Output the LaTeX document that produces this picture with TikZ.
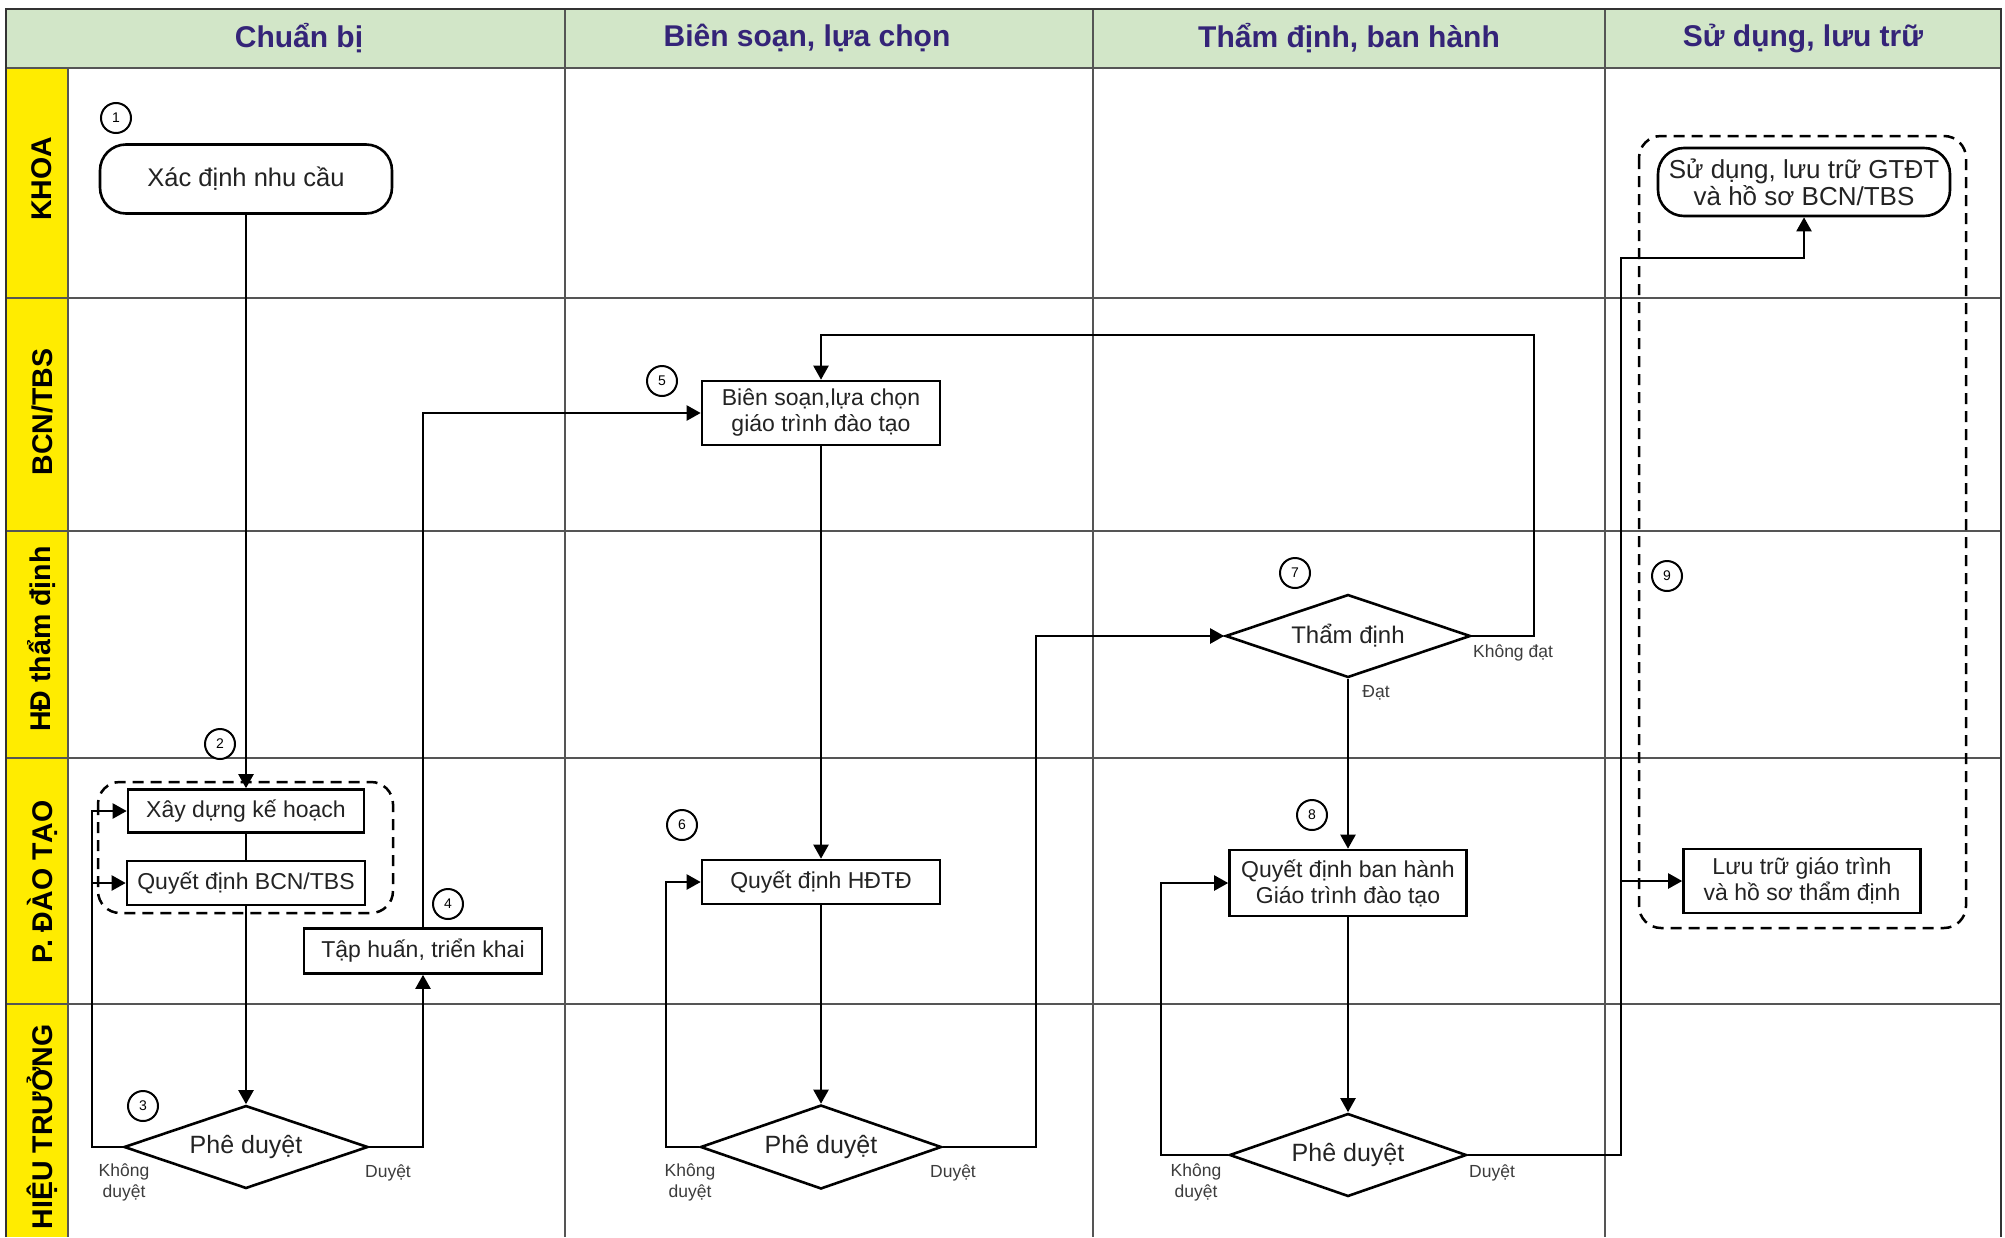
\documentclass[tikz,border=0pt]{standalone}
\usepackage{fontspec}
\setmainfont{Liberation Sans}
\usetikzlibrary{arrows.meta,shapes.geometric,calc}
\definecolor{hdrgreen}{RGB}{210,230,200}
\definecolor{hdrpurple}{RGB}{52,36,120}
\definecolor{laneyellow}{RGB}{255,236,0}
\definecolor{gridgray}{RGB}{85,85,85}
\definecolor{lblgray}{RGB}{60,60,60}
\definecolor{txtgray}{RGB}{35,35,35}
\begin{document}
\begin{tikzpicture}[x=1pt,y=-1pt,
  box/.style={draw,line width=2.6pt,fill=white,align=center,inner sep=0pt,text=txtgray,
    font=\fontsize{23}{26}\selectfont},
  rbox/.style={box,rounded corners=26pt,font=\fontsize{25.5}{27}\selectfont},
  dia/.style={draw,diamond,aspect=2.9,line width=2.6pt,fill=white,inner sep=0pt,text=txtgray,
    font=\fontsize{25}{27}\selectfont},
  num/.style={draw,circle,line width=2pt,minimum size=30pt,inner sep=0pt,
    fill=white,font=\fontsize{14}{14}\selectfont},
  conn/.style={line width=2.2pt},
  arr/.style={conn,-{Triangle[length=14pt,width=15pt]}},
  lbl/.style={text=lblgray,align=center,font=\fontsize{17.5}{21}\selectfont},
  lane/.style={rotate=90,font=\bfseries\fontsize{28.5}{30}\selectfont},
  hdr/.style={text=hdrpurple,font=\bfseries\fontsize{30}{32}\selectfont},
  grp/.style={draw,line width=2.5pt,dash pattern=on 11pt off 7pt,rounded corners=22pt},
  gridline/.style={draw=gridgray,line width=1.5pt}
]
\useasboundingbox (0,0) rectangle (2005,1237);
\fill[white] (0,0) rectangle (2005,1237);
% header and lane band
\fill[hdrgreen] (6,9) rectangle (2001,68);
\fill[laneyellow] (6,68) rectangle (68,1237);
% grid
\draw[gridline] (6,68) -- (2001,68);
\foreach \yy in {298,531,758,1004} \draw[gridline] (6,\yy) -- (2001,\yy);
\foreach \xx in {565,1093,1605} \draw[gridline] (\xx,9) -- (\xx,1237);
\draw[gridline] (68,68) -- (68,1237);
\draw[line width=1.8pt,draw=black!80] (6,1237) -- (6,9) -- (2001,9) -- (2001,1237);
% headers
\node[hdr] (h1) at (299,38) {Chuẩn bị};
\node[hdr] (h2) at (807,38) {Biên soạn, lựa chọn};
\node[hdr] (h3) at (1349,38) {Thẩm định, ban hành};
\node[hdr] (h4) at (1803,38) {Sử dụng, lưu trữ};
% lanes
\node[lane] (l1) at (42,179) {KHOA};
\node[lane] (l2) at (42,412) {BCN/TBS};
\node[lane] (l3) at (42,639) {HĐ thẩm định};
\node[lane] (l4) at (42,882) {P. ĐÀO TẠO};
\node[lane] (l5) at (42,1127) {HIỆU TRƯỞNG};
% groups
\draw[grp] (98,782) rectangle (393,913);
\draw[grp] (1639,136) rectangle (1966,928);
% nodes
\node[rbox,minimum width=292pt,minimum height=69pt] (n1) at (246,179) {Xác định nhu cầu};
\node[box,minimum width=236pt,minimum height=43pt] (n2) at (246,811) {Xây dựng kế hoạch};
\node[box,minimum width=238pt,minimum height=44pt] (n3) at (246,883) {Quyết định BCN/TBS};
\node[dia,minimum width=244pt,minimum height=83pt] (d1) at (246,1147) {Phê duyệt};
\node[box,minimum width=238pt,minimum height=45pt] (n4) at (423,951) {Tập huấn, triển khai};
\node[box,minimum width=238pt,minimum height=64pt] (n5) at (821,413) {Biên soạn,lựa chọn\\giáo trình đào tạo};
\node[box,minimum width=238pt,minimum height=44pt] (n6) at (821,882) {Quyết định HĐTĐ};
\node[dia,minimum width=241pt,minimum height=84pt] (d2) at (821,1147) {Phê duyệt};
\node[dia,minimum width=245pt,minimum height=83pt,font=\fontsize{24}{26}\selectfont] (d3) at (1348,636) {Thẩm định};
\node[box,minimum width=237pt,minimum height=66pt] (n7) at (1348,883) {Quyết định ban hành\\Giáo trình đào tạo};
\node[dia,minimum width=237pt,minimum height=83pt] (d4) at (1348,1155) {Phê duyệt};
\node[rbox,minimum width=292pt,minimum height=68pt,font=\fontsize{26}{27}\selectfont] (n8) at (1804,182) {Sử dụng, lưu trữ GTĐT\\và hồ sơ BCN/TBS};
\node[box,minimum width=237pt,minimum height=64pt] (n9) at (1802,881) {Lưu trữ giáo trình\\và hồ sơ thẩm định};
% numbers
\node[num] (c1) at (116,118) {1};
\node[num] (c2) at (220,744) {2};
\node[num] (c3) at (143,1106) {3};
\node[num] (c4) at (448,904) {4};
\node[num] (c5) at (662,381) {5};
\node[num] (c6) at (682,825) {6};
\node[num] (c7) at (1295,573) {7};
\node[num] (c8) at (1312,815) {8};
\node[num] (c9) at (1667,576) {9};
% helper coordinates
\coordinate (k1) at (92,0);
\coordinate (k2) at (666,0);
\coordinate (k3) at (1036,0);
\coordinate (k4) at (1534,335);
\coordinate (k5) at (1161,0);
\coordinate (k6) at (1621,258);
% connectors
\draw[arr] (n1.south) -- (n2.north);
\draw[conn] (n2.south) -- (n3.north);
\draw[arr] (n3.south) -- (d1.north);
\draw[arr] (d1.west) -| (k1 |- n2.west) -- (n2.west);
\draw[arr] (k1 |- n3.west) -- (n3.west);
\draw[arr] (d1.east) -| (n4.south);
\draw[arr] (n4.north) |- (n5.west);
\draw[arr] (n5.south) -- (n6.north);
\draw[arr] (n6.south) -- (d2.north);
\draw[arr] (d2.west) -| (k2 |- n6.west) -- (n6.west);
\draw[arr] (d2.east) -| (k3 |- d3.west) -- (d3.west);
\draw[arr] (d3.east) -| (k4) -| (n5.north);
\draw[arr] (d3.south) -- (n7.north);
\draw[arr] (n7.south) -- (d4.north);
\draw[arr] (d4.west) -| (k5 |- n7.west) -- (n7.west);
\draw[arr] (d4.east) -| (k6) -| (n8.south);
\draw[arr] (k6 |- n9.west) -- (n9.west);
% labels
\node[lbl] (t1) at (124,1182) {Không\\duyệt};
\node[lbl] (t2) at (388,1173) {Duyệt};
\node[lbl] (t3) at (690,1182) {Không\\duyệt};
\node[lbl] (t4) at (953,1173) {Duyệt};
\node[lbl] (t5) at (1196,1182) {Không\\duyệt};
\node[lbl] (t6) at (1492,1173) {Duyệt};
\node[lbl] (t7) at (1513,653) {Không đạt};
\node[lbl] (t8) at (1376,693) {Đạt};
\end{tikzpicture}
\end{document}
